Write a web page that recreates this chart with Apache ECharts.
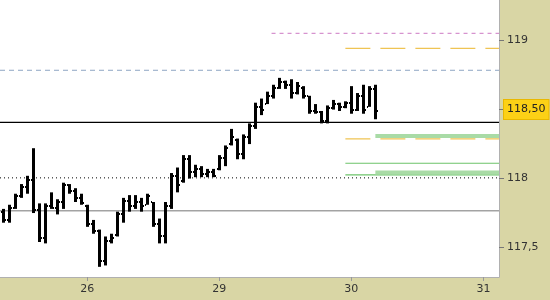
<!DOCTYPE html>
<html><head><meta charset="utf-8">
<script src="https://cdn.jsdelivr.net/npm/echarts@6/dist/echarts.min.js"></script>
<style>html,body{margin:0;padding:0;background:#d9d6a5}#c{width:550px;height:300px}</style>
</head><body><div id="c"></div>
<script>
// OHLC bars (index = bar number)
const opens  = [117.76,117.70,117.79,117.87,117.94,117.99,117.77,117.57,117.80,117.79,117.83,117.95,117.91,117.86,117.80,117.67,117.62,117.40,117.55,117.59,117.74,117.84,117.80,117.83,117.81,117.83,117.67,117.58,117.80,118.02,117.98,118.14,118.05,118.07,118.03,118.05,118.07,118.15,118.25,118.28,118.18,118.30,118.38,118.52,118.54,118.60,118.66,118.70,118.68,118.62,118.66,118.60,118.49,118.48,118.42,118.51,118.54,118.52,118.55,118.50,118.60,118.52,118.65];
const highs  = [117.78,117.81,117.89,117.96,118.02,118.22,117.82,117.82,117.90,117.85,117.97,117.96,117.93,117.89,117.81,117.70,117.63,117.58,117.60,117.76,117.86,117.88,117.88,117.86,117.89,117.83,117.71,117.83,118.04,118.08,118.17,118.17,118.10,118.09,118.07,118.07,118.17,118.24,118.36,118.29,118.32,118.40,118.55,118.58,118.63,118.68,118.73,118.71,118.72,118.70,118.67,118.60,118.54,118.49,118.53,118.57,118.55,118.56,118.67,118.62,118.68,118.67,118.68];
const lows   = [117.68,117.68,117.78,117.86,117.89,117.75,117.54,117.53,117.78,117.74,117.78,117.89,117.83,117.81,117.65,117.60,117.36,117.37,117.53,117.58,117.68,117.76,117.78,117.76,117.81,117.65,117.53,117.53,117.78,117.90,117.97,118.00,118.01,118.01,118.01,118.01,118.06,118.09,118.24,118.14,118.14,118.25,118.36,118.46,118.54,118.58,118.65,118.65,118.58,118.61,118.58,118.47,118.47,118.40,118.40,118.50,118.49,118.51,118.47,118.49,118.47,118.52,118.43];
const closes = [117.70,117.79,117.87,117.94,117.99,117.77,117.57,117.80,117.79,117.83,117.95,117.91,117.86,117.82,117.67,117.62,117.40,117.55,117.57,117.74,117.84,117.80,117.83,117.80,117.87,117.67,117.58,117.80,118.02,117.95,118.14,118.05,118.07,118.03,118.05,118.02,118.15,118.22,118.30,118.18,118.30,118.38,118.52,118.50,118.60,118.66,118.70,118.68,118.62,118.67,118.60,118.49,118.48,118.42,118.51,118.54,118.52,118.55,118.50,118.60,118.50,118.65,118.49];

const dayTickIndex = [14, 36, 58, 80];
const dayLabels = ['26', '29', '30', '31'];
const yTickValues = [117.5, 118, 118.5, 119];
const yTickLabels = ['117,5', '118', '118,50', '119'];
const lastPrice = 118.5;

// horizontal reference levels: value and starting bar index
const levelValues = [119.053, 118.944, 118.785, 118.408, 118.287, 118.309, 118.111, 118.026, 118.044, 118.005, 117.767];
const levelStarts = [44.7, 57, -0.55, -0.55, 57, 62, 57, 57, 62, -0.55, -0.55];

const X_MIN = -0.55, X_MAX = 82.6;
const levelStyles = [
  {color:'#cc78c3', width:1, type:[4,4]},
  {color:'#efc453', width:1.2, type:[25,10]},
  {color:'#8ea6c4', width:1, type:[5,4]},
  {color:'#000000', width:1.2, type:'solid'},
  {color:'#efc453', width:1.2, type:[25,10]},
  {color:'#a9dba6', width:4, type:'solid'},
  {color:'#6cc36a', width:1.2, type:'solid'},
  {color:'#6cc36a', width:1.2, type:'solid'},
  {color:'#a9dba6', width:4, type:'solid'},
  {color:'#000000', width:1, type:[1,3]},
  {color:'#a3a3a3', width:1.5, type:'solid'}
];

const ohlc = opens.map((o, i) => [i, o, highs[i], lows[i], closes[i]]);

const levelSeries = levelValues.map((v, i) => ({
  type: 'line',
  data: [[levelStarts[i], v], [X_MAX, v]],
  symbol: 'none',
  silent: true,
  animation: false,
  z: 1,
  lineStyle: levelStyles[i]
}));

const chart = echarts.init(document.getElementById('c'));
chart.setOption({
  animation: false,
  backgroundColor: '#d9d6a5',
  grid: {left: 0, right: 51, top: 0, bottom: 23, show: true, backgroundColor: '#ffffff', borderWidth: 0, outerBoundsMode: 'none'},
  xAxis: {
    type: 'value', min: X_MIN, max: X_MAX,
    splitLine: {show: false},
    axisLine: {show: true, onZero: false, lineStyle: {color: '#b0b0b0'}},
    axisTick: {show: true, customValues: dayTickIndex, length: 4, lineStyle: {color: '#999'}},
    axisLabel: {
      customValues: dayTickIndex, margin: 7, color: '#333', fontFamily: 'DejaVu Sans', fontSize: 11,
      formatter: v => { const i = dayTickIndex.indexOf(Math.round(v)); return i >= 0 ? dayLabels[i] : ''; }
    }
  },
  yAxis: {
    type: 'value', position: 'right', min: 117.2863, max: 119.2945, scale: true,
    splitLine: {show: false},
    axisLine: {show: true, onZero: false, lineStyle: {color: '#b0b0b0'}},
    axisTick: {show: true, customValues: yTickValues, length: 5, lineStyle: {color: '#777'}},
    axisLabel: {
      customValues: yTickValues, margin: 5, color: '#333', fontFamily: 'DejaVu Sans', fontSize: 11,
      formatter: v => {
        const i = yTickValues.findIndex(t => Math.abs(t - v) < 1e-6);
        if (i < 0) return '';
        return Math.abs(v - lastPrice) < 1e-6 ? '{cur|' + yTickLabels[i] + '}' : '{n|' + yTickLabels[i] + '}';
      },
      rich: {
        n: {padding: [0, 3], color: '#333', fontFamily: 'DejaVu Sans', fontSize: 11},
        cur: {padding: [4, 3, 4, 3], color: '#222', fontFamily: 'DejaVu Sans', fontSize: 11,
              backgroundColor: '#fcd116', borderColor: '#e9b800', borderWidth: 1}
      }
    }
  },
  series: levelSeries.concat([{
    type: 'custom',
    data: ohlc,
    encode: {x: 0, y: [1, 2, 3, 4]},
    z: 5,
    renderItem: (params, api) => {
      const x = Math.round(api.coord([api.value(0), api.value(2)])[0]);
      const yO = api.coord([api.value(0), api.value(1)])[1];
      const yH = api.coord([api.value(0), api.value(2)])[1];
      const yL = api.coord([api.value(0), api.value(3)])[1];
      const yC = api.coord([api.value(0), api.value(4)])[1];
      const fill = {fill: '#000'};
      return {type: 'group', children: [
        {type: 'rect', shape: {x: x - 1, y: yH, width: 3, height: Math.max(1, yL - yH)}, style: fill},
        {type: 'rect', shape: {x: x - 2, y: Math.round(yO) - 1, width: 1, height: 2}, style: fill},
        {type: 'rect', shape: {x: x + 2, y: Math.round(yC) - 1, width: 1, height: 2}, style: fill}
      ]};
    }
  }])
});
</script></body></html>
